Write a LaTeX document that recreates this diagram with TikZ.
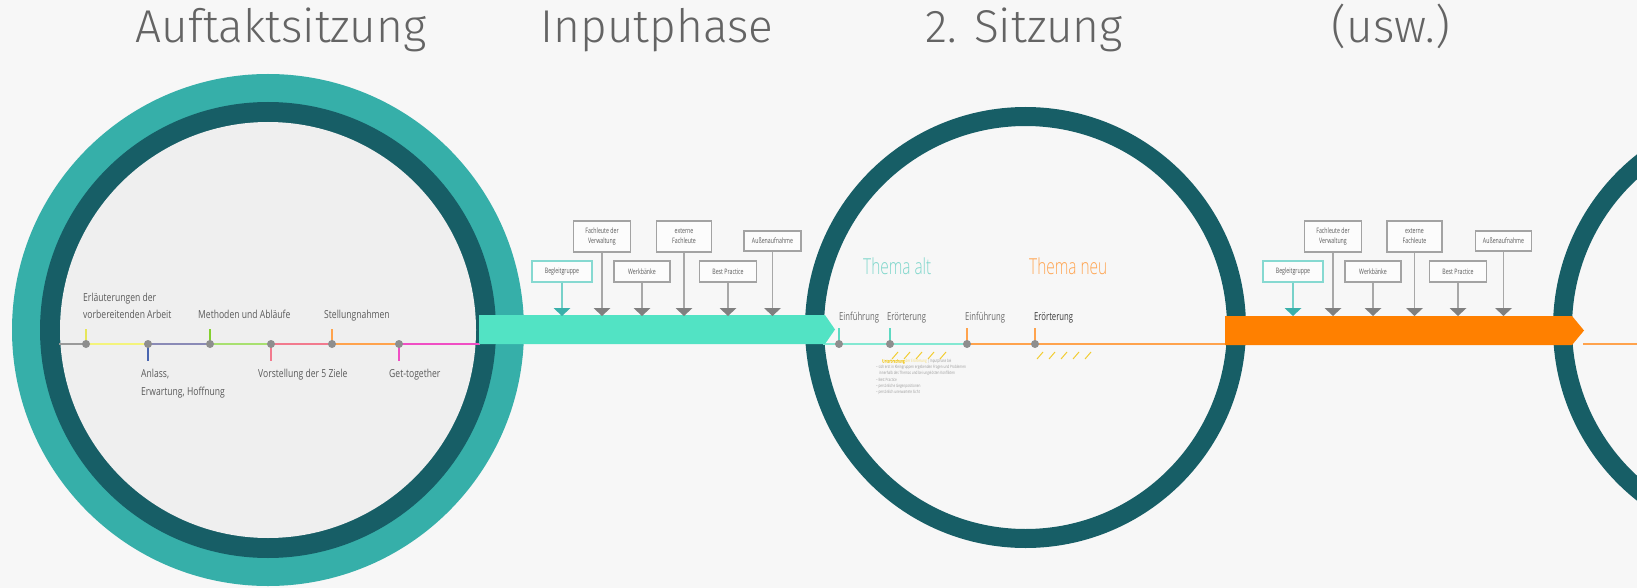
\documentclass[tikz,border=0pt]{standalone}
\usepackage{fontspec}
\IfFontExistsTF{Fira Sans Light}{\newfontfamily\lightfont{Fira Sans Light}}{%
  \IfFontExistsTF{Open Sans Light}{\newfontfamily\lightfont{Open Sans Light}}{\newfontfamily\lightfont{Fira Sans}}}
\IfFontExistsTF{Open Sans Light}{%
  \newfontfamily\themafont{Open Sans Light}[FakeStretch=0.7]}{%
  \newfontfamily\themafont{Open Sans}[FakeStretch=0.7]}
\newfontfamily\condfont{Open Sans}[FakeStretch=0.78]
\newfontfamily\condnarrow{Open Sans}[FakeStretch=0.7]
\newfontfamily\condreg{Open Sans}[FakeStretch=0.72, FakeBold=1]
\definecolor{bgc}{HTML}{F7F7F7}
\definecolor{tealring}{HTML}{36AFA9}
\definecolor{darkring}{HTML}{175E66}
\definecolor{innerc}{HTML}{EFEFEF}
\definecolor{bandteal}{HTML}{52E3C4}
\definecolor{bandorange}{HTML}{FF8000}
\definecolor{titlegray}{HTML}{646464}
\definecolor{labgray}{HTML}{5A5A5A}
\definecolor{dotgray}{HTML}{8E8E8E}
\definecolor{lgray}{HTML}{9A9A9A}
\definecolor{lyellow}{HTML}{F4F47C}
\definecolor{tyellow}{HTML}{E6E65A}
\definecolor{lpurple}{HTML}{8A8AB6}
\definecolor{tblue}{HTML}{4A66B0}
\definecolor{lgreen}{HTML}{A8E070}
\definecolor{tgreen}{HTML}{84D030}
\definecolor{lpink}{HTML}{F27A8E}
\definecolor{lorange}{HTML}{FFA34D}
\definecolor{lmagenta}{HTML}{F04EC4}
\definecolor{lteal}{HTML}{84E8D2}
\definecolor{tteal}{HTML}{5FD9C2}
\definecolor{themateal}{HTML}{7ED6CB}
\definecolor{themaorange}{HTML}{FFA552}
\definecolor{hatch}{HTML}{F2CC30}
\definecolor{boxborder}{HTML}{A3A3A3}
\definecolor{boxteal}{HTML}{86D9D1}
\definecolor{tritealc}{HTML}{3AB0AA}
\definecolor{trigray}{HTML}{808080}
\definecolor{connc}{HTML}{A8A8A8}
\begin{document}
\begin{tikzpicture}[x=1pt,y=-1pt,
  title/.style={font=\lightfont\fontsize{46}{50}\selectfont, text=titlegray, inner sep=0, anchor=base},
  lab/.style={font=\condfont\fontsize{11}{13}\selectfont, text=labgray, inner sep=0, anchor=base west},
  labn/.style={font=\condnarrow\fontsize{11}{13}\selectfont, text=labgray!90, inner sep=0, anchor=base west},
  seg/.style={line width=1.6pt},
  tickline/.style={line width=1.5pt},
  dot/.style={circle, fill=dotgray, minimum size=8pt, inner sep=0},
  ibox/.style={draw=boxborder, line width=1.2pt, fill=white!60!bgc, inner sep=0, align=center,
    font=\condnarrow\fontsize{7.5}{10}\selectfont, text=labgray},
  ibox1/.style={ibox, minimum height=21pt},
  ibox2/.style={ibox, minimum height=31pt},
  tboxstyle/.style={ibox, draw=boxteal, minimum height=21pt},
  conn/.style={draw=connc, line width=1.2pt},
  thema/.style={font=\themafont\fontsize{22}{24}\selectfont, inner sep=0, anchor=base west},
  hatchline/.style={draw=hatch, line width=1pt}
]
\useasboundingbox (0,0) rectangle (1637,588);
\clip (0,0) rectangle (1637,588);
\fill[bgc] (0,0) rectangle (1637,588);

% titles
\node[title] (ti1) at (281,43) {Auftaktsitzung};
\node[title] (ti2) at (657,43) {Inputphase};
\node[title] (ti3) at (1024,43) {2. Sitzung};
\node[title] (ti4) at (1391,43) {(usw.)};

% circle 1
\fill[tealring] (268,330) circle[radius=256];
\fill[darkring] (268,330) circle[radius=228];
\fill[innerc] (268,330) circle[radius=208];

% circles 3 and 4
\draw[darkring, line width=19pt] (1025.5,327.5) circle[radius=211];
\draw[darkring, line width=19pt] (1773.5,327.5) circle[radius=211];

% timeline circle 1
\coordinate (p0) at (59,344);
\coordinate (p1) at (86,344);
\coordinate (p2) at (148,344);
\coordinate (p3) at (210,344);
\coordinate (p4) at (271,344);
\coordinate (p5) at (332,344);
\coordinate (p6) at (399,344);
\coordinate (p7) at (480,344);
\draw[seg, lgray] (p0) -- (p1);
\draw[seg, lyellow] (p1) -- (p2);
\draw[seg, lpurple] (p2) -- (p3);
\draw[seg, lgreen] (p3) -- (p4);
\draw[seg, lpink] (p4) -- (p5);
\draw[seg, lorange] (p5) -- (p6);
\draw[seg, lmagenta] (p6) -- (p7);
\draw[tickline, tyellow] (p1) ++(0,-3) -- ++(0,-12);
\draw[tickline, tblue] (p2) ++(0,3) -- ++(0,14);
\draw[tickline, tgreen] (p3) ++(0,-3) -- ++(0,-12);
\draw[tickline, lpink] (p4) ++(0,3) -- ++(0,14);
\draw[tickline, lorange] (p5) ++(0,-3) -- ++(0,-12);
\draw[tickline, lmagenta] (p6) ++(0,3) -- ++(0,14);
\foreach \i in {1,...,6} { \node[dot] (d\i) at (p\i) {}; }

\node[lab] (la1) at (83,301) {Erläuterungen der};
\node[lab] (la2) at (83,318) {vorbereitenden Arbeit};
\node[lab] (la3) at (198,318) {Methoden und Abläufe};
\node[lab] (la4) at (324,318) {Stellungnahmen};
\node[lab] (la5) at (141,377) {Anlass,};
\node[lab] (la6) at (141,395) {Erwartung, Hoffnung};
\node[lab] (la7) at (258,377) {Vorstellung der 5 Ziele};
\node[lab] (la8) at (389,377) {Get-together};

% timeline circle 3
\coordinate (q0) at (823,344);
\coordinate (q1) at (839,344);
\coordinate (q2) at (890,344);
\coordinate (q3) at (967,344);
\coordinate (q4) at (1035,344);
\coordinate (q5) at (1226,344);
\coordinate (q6) at (1583,344);
\coordinate (q7) at (1637,344);
\draw[seg, lteal] (q0) -- (q3);
\draw[seg, lorange] (q3) -- (q5);
\draw[seg, lorange] (q6) -- (q7);
\draw[tickline, tteal] (q1) ++(0,-3) -- ++(0,-13);
\draw[tickline, tteal] (q2) ++(0,-3) -- ++(0,-13);
\draw[tickline, lorange] (q3) ++(0,-3) -- ++(0,-13);
\draw[tickline, lorange] (q4) ++(0,-3) -- ++(0,-13);
\foreach \i in {1,...,4} { \node[dot] (e\i) at (q\i) {}; }

\node[labn] (lb1) at (839,320) {Einführung};
\node[labn] (lb2) at (887,320) {Erörterung};
\node[labn] (lb3) at (965,320) {Einführung};
\node[labn, text=labgray!120] (lb4) at (1034,320) {Erörterung};
\node[thema, text=themateal] (th1) at (863,274) {Thema alt};
\node[thema, text=themaorange] (th2) at (1029,274) {Thema neu};

\foreach \x in {0,1,2,3,4} {
  \draw[hatchline] (892+12*\x,359) -- ++(6,-7);
  \draw[hatchline] (1037+12*\x,359) -- ++(6,-7);
}
\node[inner sep=0, anchor=north west, align=left, text=lgray, font=\condnarrow\fontsize{4.4}{6.2}\selectfont] (small) at (876,359)
  {\hspace*{6pt}{\condreg\textcolor{hatch}{Unterbrechung}} \textcolor{hatch!70}{der Erörterung} | Inputphase bei\\
   – sich erst in Kleingruppen ergebenden Fragen und Problemen\\
   \hspace*{3pt}innerhalb des Themas und bei ungelösten Konflikten\\
   – Best Practice\\
   – persönliche Gegenpositionen\\
   – persönlich unerwartete Sicht};

% bands
\fill[bandteal] (479,315) -- (825,315) -- (835,329.5) -- (825,344) -- (479,344) -- cycle;
\fill[bandorange] (1225,316) -- (1572,316) -- (1584,330.5) -- (1572,345) -- (1225,345) -- cycle;

% input boxes, set 1
\node[tboxstyle, minimum width=60pt] (b1) at (562,271.5) {Begleitgruppe};
\node[ibox2, minimum width=57pt] (b2) at (602,236.5) {Fachleute der\\Verwaltung};
\node[ibox1, minimum width=56pt] (b3) at (642,271.5) {Werkbänke};
\node[ibox2, minimum width=55pt] (b4) at (684,236.5) {externe\\Fachleute};
\node[ibox1, minimum width=57pt] (b5) at (728,271.5) {Best Practice};
\node[ibox, minimum width=57pt, minimum height=20pt] (b6) at (772.5,241) {Außenaufnahme};
% input boxes, set 2
\node[tboxstyle, minimum width=60pt] (c1) at (1293,271.5) {Begleitgruppe};
\node[ibox2, minimum width=57pt] (c2) at (1333,236.5) {Fachleute der\\Verwaltung};
\node[ibox1, minimum width=56pt] (c3) at (1373,271.5) {Werkbänke};
\node[ibox2, minimum width=55pt] (c4) at (1414.5,236.5) {externe\\Fachleute};
\node[ibox1, minimum width=57pt] (c5) at (1458,271.5) {Best Practice};
\node[ibox, minimum width=56pt, minimum height=20pt] (c6) at (1503.5,241) {Außenaufnahme};

\foreach \n/\col in {b1/tritealc,b2/trigray,b3/trigray,b4/trigray,b5/trigray,b6/trigray,
                     c1/tritealc,c2/trigray,c3/trigray,c4/trigray,c5/trigray,c6/trigray} {
  \coordinate (a\n) at (\n.south |- 0,308);
  \draw[conn] (\n.south) -- (a\n);
  \fill[\col] (a\n) ++(-8.5,0) -- ++(17,0) -- ++(-8.5,8) -- cycle;
}
\draw[draw=boxteal!80!tritealc, line width=1.2pt] (b1.south) -- (ab1);
\draw[draw=boxteal!80!tritealc, line width=1.2pt] (c1.south) -- (ac1);
\end{tikzpicture}
\end{document}
